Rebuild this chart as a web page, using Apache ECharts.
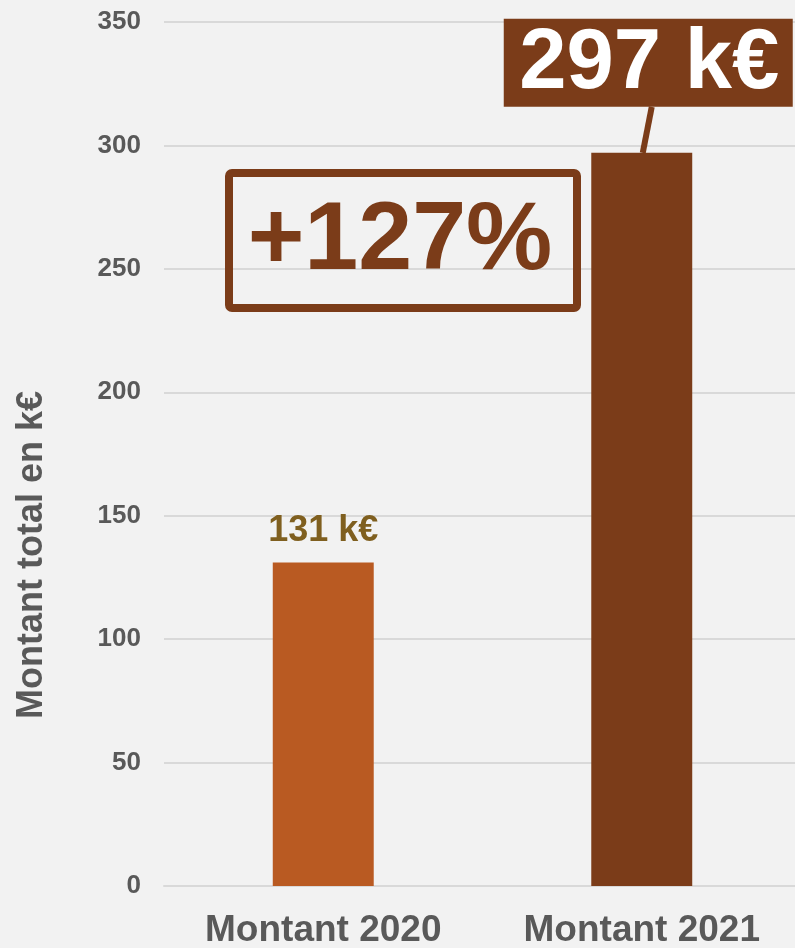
<!DOCTYPE html>
<html>
<head>
<meta charset="utf-8">
<script src="https://cdn.jsdelivr.net/npm/echarts@6/dist/echarts.min.js"></script>
<style>
html,body{margin:0;padding:0;background:#f2f2f2;}
#c{width:795px;height:948px;}
</style>
</head>
<body>
<div id="c"></div>
<script>
const categories = ['Montant 2020', 'Montant 2021'];
const values = [131, 297];
const barColors = ['#b95a22', '#7b3c19'];
const valueLabels = ['131 k€', '297 k€'];
const growthLabel = '+127%';
const yTitle = 'Montant total en k€';

const FONT = '"Liberation Sans", Arial, Helvetica, sans-serif';
const chart = echarts.init(document.getElementById('c'), null, {renderer: 'canvas'});

const option = {
  backgroundColor: '#f2f2f2',
  animation: false,
  grid: {left: 164, right: -6, top: 22, bottom: 62, containLabel: false, outerBoundsMode: 'none'},
  xAxis: {
    type: 'category',
    data: categories,
    axisLine: {show: true, lineStyle: {color: '#d9d9d9', width: 2}},
    axisTick: {show: false},
    axisLabel: {color: '#595959', fontSize: 37, fontWeight: 'bold', fontFamily: FONT, margin: 26}
  },
  yAxis: {
    type: 'value',
    min: 0, max: 350, interval: 50,
    axisLine: {show: false},
    axisTick: {show: false},
    splitLine: {lineStyle: {color: '#d9d9d9', width: 2}},
    axisLabel: {color: '#595959', fontSize: 26, fontWeight: 'bold', fontFamily: FONT, margin: 23}
  },
  series: [{
    type: 'bar',
    barWidth: '31.7%',
    data: values.map((v, i) => ({
      value: v,
      itemStyle: {color: barColors[i]},
      label: i === 0 ? {
        show: true, position: 'top', distance: 14,
        formatter: valueLabels[i],
        color: '#7f5f1f', fontSize: 36, fontWeight: 'bold', fontFamily: FONT
      } : {show: false}
    }))
  }]
};
chart.setOption(option);

// annotations anchored to the 2021 bar top
const top2021 = chart.convertToPixel({gridIndex: 0}, [1, values[1]]);
const bx = top2021[0], by = top2021[1];
chart.setOption({
  graphic: [
    {type: 'line', shape: {x1: bx + 10, y1: by - 46, x2: bx + 1, y2: by}, style: {stroke: '#7b3c19', lineWidth: 6}, z: 10},
    {type: 'rect', shape: {x: bx - 138, y: by - 134, width: 289, height: 88}, style: {fill: '#7b3c19'}, z: 11},
    {type: 'text', x: bx + 7.5, y: by - 88, style: {text: valueLabels[1], fill: '#ffffff', font: 'bold 85px ' + FONT, textAlign: 'center', textVerticalAlign: 'middle'}, z: 12},
    {type: 'rect', shape: {x: 229, y: 173, width: 348, height: 135, r: 3}, style: {fill: 'none', stroke: '#7b3c19', lineWidth: 8}, z: 11},
    {type: 'text', x: 400, y: 242, style: {text: growthLabel, fill: '#7b3c19', font: 'bold 97px ' + FONT, textAlign: 'center', textVerticalAlign: 'middle'}, z: 12},
    {type: 'text', x: 32, y: 555, rotation: Math.PI / 2, style: {text: yTitle, fill: '#595959', font: 'bold 36px ' + FONT, textAlign: 'center', textVerticalAlign: 'middle'}, z: 12}
  ]
});
</script>
</body>
</html>
